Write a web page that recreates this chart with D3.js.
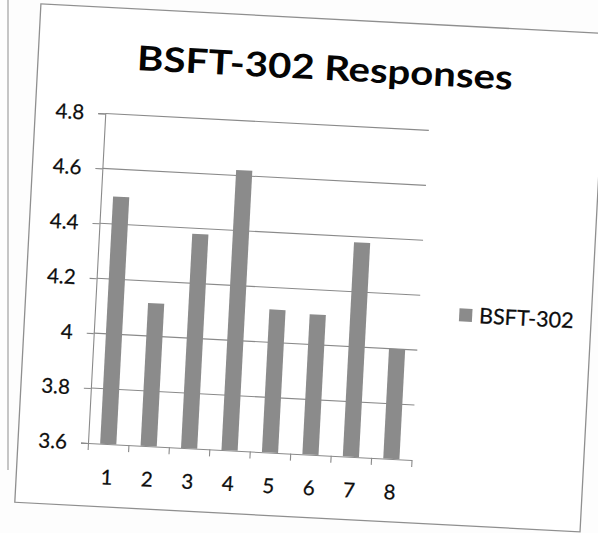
<!DOCTYPE html>
<html>
<head>
<meta charset="utf-8">
<script src="https://cdn.jsdelivr.net/npm/d3@7"></script>
<style>
  html, body { margin: 0; padding: 0; background: #ffffff; }
  svg { display: block; }
</style>
</head>
<body>
<svg id="chart" width="598" height="533"></svg>
<script>
// ---- data ----
const categories = ["1", "2", "3", "4", "5", "6", "7", "8"];
const values = [4.5, 4.12, 4.38, 4.62, 4.12, 4.11, 4.38, 4.0];
const yTicks = [3.6, 3.8, 4.0, 4.2, 4.4, 4.6, 4.8];
const yTickLabels = ["3.6", "3.8", "4", "4.2", "4.4", "4.6", "4.8"];
const seriesName = "BSFT-302";
const title = "BSFT-302 Responses";

// ---- layout ----
const W = 598, H = 533;
const plot = { left: 88, right: 412, top: 113, bottom: 443 };
const tilt = 3; // scanned page is rotated clockwise
const font = "Lato, 'Open Sans', sans-serif";
const barColor = "#8b8b8b";
const gridColor = "#8a8a8a";
const textColor = "#0d0d0d";

const svg = d3.select("#chart");
svg.append("rect").attr("width", W).attr("height", H).attr("fill", "#fdfdfd");

// edge of neighbouring page element (not rotated)
svg.append("line").attr("x1", 8).attr("x2", 8).attr("y1", 0).attr("y2", 470)
  .attr("stroke", "#a0a0a0").attr("stroke-width", 1.2);

const g = svg.append("g")
  .attr("transform", `rotate(${tilt},${plot.left},${plot.bottom})`);

// chart frame
g.append("rect")
  .attr("x", 18).attr("y", 7).attr("width", 566).attr("height", 499)
  .attr("fill", "#ffffff").attr("stroke", "#8f8f8f").attr("stroke-width", 1.3);

const x = d3.scaleBand().domain(categories)
  .range([plot.left, plot.right]).paddingInner(0.6).paddingOuter(0.3);
const xEdge = d3.scaleLinear().domain([0, categories.length])
  .range([plot.left, plot.right]);
const y = d3.scaleLinear().domain([3.6, 4.8]).range([plot.bottom, plot.top]);

// gridlines
g.append("g").selectAll("line").data(yTicks.slice(1)).join("line")
  .attr("x1", plot.left).attr("x2", plot.right)
  .attr("y1", d => y(d)).attr("y2", d => y(d))
  .attr("stroke", gridColor).attr("stroke-width", 1.1);

// y axis
const yAxis = g.append("g").attr("transform", `translate(${plot.left},0)`)
  .call(d3.axisLeft(y).tickValues(yTicks)
    .tickFormat((d, i) => yTickLabels[i]).tickSize(7).tickPadding(14));
yAxis.select(".domain").attr("stroke", gridColor).attr("stroke-width", 1.1);
yAxis.selectAll(".tick line").attr("stroke", gridColor).attr("stroke-width", 1.1);
yAxis.selectAll("text").attr("font-family", font).attr("font-size", 20.5)
  .attr("fill", textColor).attr("stroke", textColor).attr("stroke-width", 0.25);

// bars
g.append("g").selectAll("rect").data(values).join("rect")
  .attr("x", (d, i) => x(categories[i]))
  .attr("width", x.bandwidth())
  .attr("y", d => y(d))
  .attr("height", d => y(3.6) - y(d))
  .attr("fill", barColor);

// x axis: boundary ticks
const xTicksG = g.append("g").attr("transform", `translate(0,${plot.bottom})`)
  .call(d3.axisBottom(xEdge).tickValues(d3.range(0, categories.length + 1))
    .tickFormat("").tickSize(7).tickSizeOuter(0));
xTicksG.select(".domain").attr("stroke", gridColor).attr("stroke-width", 1.1);
xTicksG.selectAll(".tick line").attr("stroke", gridColor).attr("stroke-width", 1.1);

// x axis labels
const xLab = g.append("g").attr("transform", `translate(0,${plot.bottom})`)
  .call(d3.axisBottom(x).tickSize(0).tickPadding(26));
xLab.select(".domain").remove();
xLab.selectAll("text").attr("font-family", font).attr("font-size", 20.5)
  .attr("fill", textColor).attr("stroke", textColor).attr("stroke-width", 0.25);

// title
g.append("text")
  .attr("x", 305).attr("y", 68)
  .attr("text-anchor", "middle")
  .attr("font-family", font).attr("font-weight", "bold").attr("font-size", 34)
  .attr("fill", "#050505")
  .attr("textLength", 376).attr("lengthAdjust", "spacingAndGlyphs")
  .text(title);

// legend
const leg = g.append("g").attr("transform", "translate(452,289)");
leg.append("rect").attr("width", 13).attr("height", 13).attr("fill", barColor);
leg.append("text").attr("x", 20).attr("y", 6.5).attr("dy", "0.35em")
  .attr("font-family", font).attr("font-size", 21.5).attr("fill", textColor)
  .attr("stroke", textColor).attr("stroke-width", 0.25)
  .text(seriesName);
</script>
</body>
</html>
